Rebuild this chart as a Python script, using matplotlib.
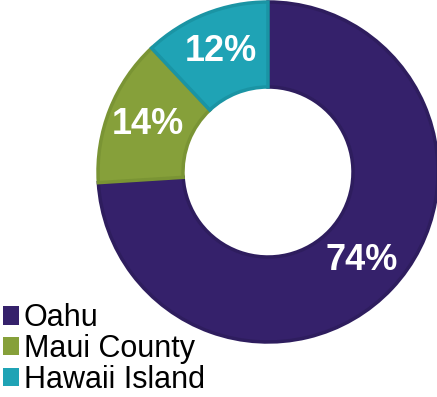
import matplotlib.pyplot as plt
from matplotlib.patches import Patch

# island share of total
regions = ['Oahu', 'Maui County', 'Hawaii Island']
shares = [74, 14, 12]
colors = ['#35216b', '#86a03a', '#1fa3b5']
edge_colors = ['#2e1d5e', '#7a9434', '#1a94a4']

plt.rcParams['font.family'] = ['Liberation Sans', 'DejaVu Sans']

fig = plt.figure(figsize=(4.37, 3.97), dpi=100)
# square axes so the donut sits top-right like the original
ax = fig.add_axes([98 / 437, 55 / 397, 340 / 437, 340 / 397])

wedges, texts, autotexts = ax.pie(
    shares, colors=colors, startangle=90, counterclock=False,
    radius=1, autopct='%d%%', pctdistance=0.76,
    wedgeprops=dict(width=0.5, linewidth=2.5),
    textprops=dict(color='white', fontsize=26, fontweight='bold'))
for w, ec in zip(wedges, edge_colors):
    w.set_edgecolor(ec)
ax.set_xlim(-1, 1)
ax.set_ylim(-1, 1)
ax.set_aspect('equal')
ax.axis('off')

handles = [Patch(facecolor=c, label=r) for c, r in zip(colors, regions)]
fig.legend(handles=handles, loc='lower left', bbox_to_anchor=(-0.036, -0.04),
           frameon=False, fontsize=22, handlelength=0.55, handleheight=0.55,
           handletextpad=0.15, labelspacing=0.02, borderpad=0.1)

fig.savefig('out.png', dpi=100)
